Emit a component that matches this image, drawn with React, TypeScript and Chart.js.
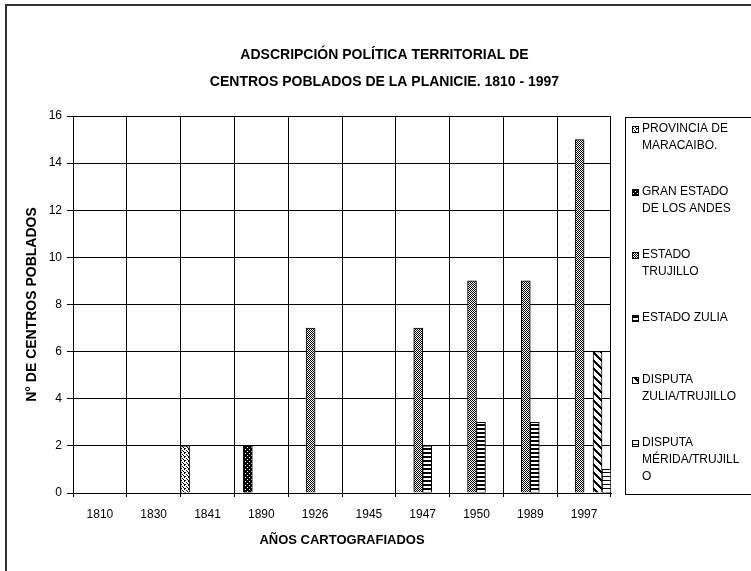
import React, { useEffect, useRef } from 'react';
import { Chart, registerables } from 'chart.js';

Chart.register(...registerables);

const CATEGORIES = ['1810', '1830', '1841', '1890', '1926', '1945', '1947', '1950', '1989', '1997'];

const PROVINCIA_MARACAIBO = [0, 0, 2, 0, 0, 0, 0, 0, 0, 0];
const GRAN_ESTADO_ANDES = [0, 0, 0, 2, 0, 0, 0, 0, 0, 0];
const ESTADO_TRUJILLO = [0, 0, 0, 0, 7, 0, 7, 9, 9, 15];
const ESTADO_ZULIA = [0, 0, 0, 0, 0, 0, 2, 3, 3, 0];
const DISPUTA_ZULIA_TRUJILLO = [0, 0, 0, 0, 0, 0, 0, 0, 0, 6];
const DISPUTA_MERIDA_TRUJILLO = [0, 0, 0, 0, 0, 0, 0, 0, 0, 1];

const SERIES_LABELS = [
  'PROVINCIA DE MARACAIBO.',
  'GRAN ESTADO DE LOS ANDES',
  'ESTADO TRUJILLO',
  'ESTADO ZULIA',
  'DISPUTA ZULIA/TRUJILLO',
  'DISPUTA MÉRIDA/TRUJILLO',
];

const LEGEND_LINES = [
  ['PROVINCIA DE', 'MARACAIBO.'],
  ['GRAN ESTADO', 'DE LOS ANDES'],
  ['ESTADO', 'TRUJILLO'],
  ['ESTADO ZULIA'],
  ['DISPUTA', 'ZULIA/TRUJILLO'],
  ['DISPUTA', 'MÉRIDA/TRUJILL', 'O'],
];

const TITLE_LINES = ['ADSCRIPCIÓN POLÍTICA TERRITORIAL DE', 'CENTROS POBLADOS DE LA PLANICIE. 1810 - 1997'];
const Y_TITLE = 'N° DE CENTROS POBLADOS';
const X_TITLE = 'AÑOS CARTOGRAFIADOS';
const Y_MIN = 0;
const Y_MAX = 16;
const Y_STEP = 2;

const FONT = '"Liberation Sans", Arial, sans-serif';

type PatternKind = 'dotsLight' | 'dotsDark' | 'checker' | 'hstripes' | 'diag' | 'hlines';

function makePattern(kind: PatternKind): CanvasPattern | string {
  const c = document.createElement('canvas');
  let w = 4;
  let h = 4;
  if (kind === 'checker') { w = 2; h = 2; }
  if (kind === 'diag') { w = 8; h = 8; }
  if (kind === 'hstripes' || kind === 'hlines') { w = 1; h = 4; }
  c.width = w;
  c.height = h;
  const g = c.getContext('2d');
  if (!g) return '#888';
  const px = (x: number, y: number, col: string) => { g.fillStyle = col; g.fillRect(x, y, 1, 1); };
  if (kind === 'dotsLight') {
    g.fillStyle = '#fff'; g.fillRect(0, 0, w, h);
    px(0, 0, '#000'); px(1, 0, '#000'); px(0, 1, '#000');
    px(2, 2, '#000'); px(3, 3, '#000');
  } else if (kind === 'dotsDark') {
    g.fillStyle = '#000'; g.fillRect(0, 0, w, h);
    px(1, 1, '#fff'); px(3, 3, '#fff');
  } else if (kind === 'checker') {
    g.fillStyle = '#fff'; g.fillRect(0, 0, w, h);
    px(0, 0, '#000'); px(1, 1, '#000');
  } else if (kind === 'hstripes') {
    g.fillStyle = '#fff'; g.fillRect(0, 0, w, h);
    g.fillStyle = '#000'; g.fillRect(0, 0, 1, 2);
  } else if (kind === 'hlines') {
    g.fillStyle = '#fff'; g.fillRect(0, 0, w, h);
    px(0, 0, '#000');
  } else if (kind === 'diag') {
    g.fillStyle = '#fff'; g.fillRect(0, 0, w, h);
    for (let y = 0; y < h; y++) {
      for (let x = 0; x < w; x++) {
        if (((x - y) % 8 + 8) % 8 < 3) px(x, y, '#000');
      }
    }
  }
  const p = g.createPattern(c, 'repeat');
  return p || '#888';
}

const legendPlugin = {
  id: 'customLegend',
  afterDraw(chart: any) {
    const { ctx, chartArea } = chart;
    const left = Math.round(chartArea.right) + 14;
    const top = Math.round(chartArea.top) + 1;
    const bottom = Math.round(chartArea.bottom) + 1;
    ctx.save();
    ctx.strokeStyle = '#000';
    ctx.lineWidth = 1;
    ctx.strokeRect(left + 0.5, top + 0.5, 400, bottom - top);
    ctx.font = '12px ' + FONT;
    ctx.textBaseline = 'middle';
    ctx.textAlign = 'left';
    const n = chart.data.datasets.length;
    const step = (bottom - top) / n;
    chart.data.datasets.forEach((ds: any, i: number) => {
      const y0 = Math.round(top + 12 + i * step);
      ctx.fillStyle = ds.backgroundColor;
      ctx.fillRect(left + 7, y0 - 3, 7, 7);
      ctx.strokeStyle = '#000';
      ctx.strokeRect(left + 7.5, y0 - 2.5, 6, 6);
      ctx.fillStyle = '#000';
      (LEGEND_LINES[i] || [ds.label]).forEach((t: string, j: number) => {
        ctx.fillText(t, left + 17, y0 + j * 17);
      });
    });
    ctx.restore();
  },
};

export default function App() {
  const ref = useRef<HTMLCanvasElement | null>(null);

  useEffect(() => {
    const canvas = ref.current;
    if (!canvas) return;
    const kinds: PatternKind[] = ['dotsLight', 'dotsDark', 'checker', 'hstripes', 'diag', 'hlines'];
    const values = [
      PROVINCIA_MARACAIBO,
      GRAN_ESTADO_ANDES,
      ESTADO_TRUJILLO,
      ESTADO_ZULIA,
      DISPUTA_ZULIA_TRUJILLO,
      DISPUTA_MERIDA_TRUJILLO,
    ];
    const datasets = values.map((data, i) => ({
      label: SERIES_LABELS[i],
      data,
      backgroundColor: makePattern(kinds[i]),
      borderColor: '#000',
      borderWidth: 1,
      categoryPercentage: 1,
      barPercentage: 1,
      yAxisID: 'y',
    }));

    const chart = new Chart(canvas, {
      type: 'bar',
      data: { labels: CATEGORIES, datasets },
      plugins: [legendPlugin],
      options: {
        responsive: false,
        animation: false,
        devicePixelRatio: 1,
        layout: { padding: { left: 18, right: 0, top: 0, bottom: 0 } },
        plugins: {
          legend: { display: false },
          tooltip: { enabled: false },
          title: {
            display: true,
            text: TITLE_LINES,
            color: '#000',
            font: { family: FONT, size: 14, weight: 'bold', lineHeight: 27 / 14 },
            padding: { top: 41.5, bottom: 20.5 },
          },
        },
        scales: {
          x: {
            type: 'category',
            grid: { display: true, color: '#000', lineWidth: 1, offset: true, drawTicks: true, tickLength: 4, tickColor: '#000' },
            border: { display: true, color: '#000', width: 1 },
            ticks: { color: '#000', font: { family: FONT, size: 12 }, padding: 10, maxRotation: 0, autoSkip: false },
            title: {
              display: true,
              text: X_TITLE,
              color: '#000',
              font: { family: FONT, size: 13, weight: 'bold' },
              padding: { top: 0, bottom: 23 },
            },
            afterFit: (s: any) => { s.height = 78; },
          },
          y: {
            type: 'linear',
            position: 'left',
            min: Y_MIN,
            max: Y_MAX,
            grid: { display: true, color: '#000', lineWidth: 1, drawTicks: true, tickLength: 6, tickColor: '#000' },
            border: { display: true, color: '#000', width: 1 },
            ticks: { stepSize: Y_STEP, color: '#000', font: { family: FONT, size: 12 }, padding: 5 },
            title: {
              display: true,
              text: Y_TITLE,
              color: '#000',
              font: { family: FONT, size: 14, weight: 'bold' },
              padding: { top: 6, bottom: 0 },
            },
            afterFit: (s: any) => { s.width = 55; },
          },
          yRightSpace: {
            type: 'linear',
            position: 'right',
            display: true,
            grid: { display: false, drawTicks: false },
            border: { display: false },
            ticks: { display: false },
            afterFit: (s: any) => { s.width = 140; },
          },
        },
      },
    } as any);

    return () => chart.destroy();
  }, []);

  return (
    <div style={{ position: 'absolute', left: 0, top: 0, width: 751, height: 571, overflow: 'hidden', background: '#fff' }}>
      <div
        style={{
          position: 'absolute',
          left: 5,
          top: 4,
          width: 800,
          height: 620,
          borderTop: '2px solid #333',
          borderLeft: '2px solid #333',
          boxSizing: 'border-box',
        }}
      />
      <canvas ref={ref} width={751} height={571} style={{ position: 'absolute', left: 0, top: 0, width: 751, height: 571 }} />
    </div>
  );
}
